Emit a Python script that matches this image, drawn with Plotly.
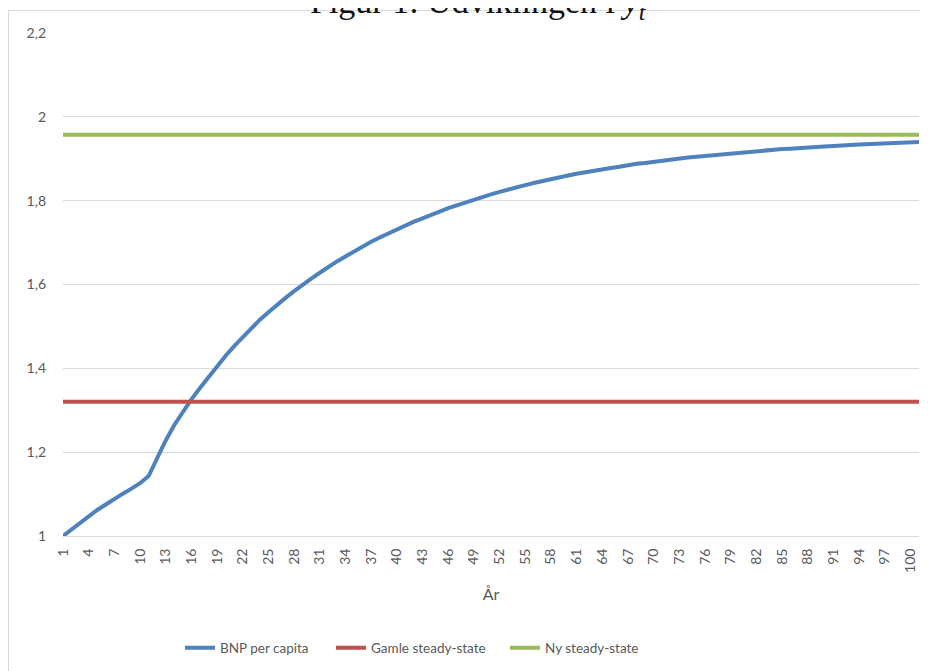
import plotly.graph_objects as go

# ---- data ----
years = list(range(1, 102))
tick_years = list(range(1, 101, 3))
tick_labels = [str(v) for v in tick_years]

bnp_per_capita = [
    1.000, 1.016, 1.032, 1.047, 1.062, 1.075, 1.089, 1.101, 1.113, 1.126,
    1.143, 1.187, 1.228, 1.265, 1.297, 1.326, 1.353, 1.379, 1.406, 1.430,
    1.453, 1.475, 1.497, 1.516, 1.534, 1.552, 1.568, 1.584, 1.600, 1.614,
    1.628, 1.642, 1.655, 1.667, 1.679, 1.691, 1.702, 1.712, 1.722, 1.732,
    1.741, 1.750, 1.758, 1.767, 1.774, 1.782, 1.789, 1.796, 1.803, 1.809,
    1.815, 1.821, 1.827, 1.832, 1.837, 1.842, 1.847, 1.851, 1.856, 1.860,
    1.864, 1.868, 1.871, 1.875, 1.878, 1.881, 1.885, 1.888, 1.890, 1.893,
    1.896, 1.898, 1.901, 1.903, 1.905, 1.907, 1.909, 1.911, 1.913, 1.915,
    1.917, 1.918, 1.920, 1.922, 1.923, 1.924, 1.926, 1.927, 1.928, 1.929,
    1.931, 1.932, 1.933, 1.934, 1.935, 1.936, 1.936, 1.937, 1.938, 1.939,
    1.940,
]
gamle_steady_state_value = 1.32
ny_steady_state_value = 1.957
gamle_steady_state = [gamle_steady_state_value] * len(years)
ny_steady_state = [ny_steady_state_value] * len(years)

series_names = ["BNP per capita", "Gamle steady-state", "Ny steady-state"]
series_colors = ["#4F81BD", "#C0504D", "#9BBB59"]

title_text = "Figur 1: Udviklingen i <i>y</i><sub><i>t</i></sub>"
x_title = "År"

# ---- figure ----
# the page body has an 8px margin, so the figure starts at (8, 8) in the window
OFF = 8
W, H = 928 - OFF, 671 - OFF
ML, MR, MT, MB = 63 - OFF, 9, 33 - OFF, 135
PW, PH = W - ML - MR, H - MT - MB

def px_x(p):  # window pixel -> paper x
    return (p - OFF - ML) / PW

def px_y(p):  # window pixel -> paper y
    return 1 - (p - OFF - MT) / PH

fig = go.Figure()
all_series = [bnp_per_capita, gamle_steady_state, ny_steady_state]
legend_ids = ["legend", "legend2", "legend3"]
for vals, name, col, lg in zip(all_series, series_names, series_colors, legend_ids):
    fig.add_trace(go.Scatter(
        x=years, y=vals, mode="lines", name=name,
        line=dict(color=col, width=4),
        legend=lg, hoverinfo="skip",
    ))

font_family = "Lato, 'Open Sans', sans-serif"
gray = "#595959"

legend_common = dict(
    orientation="h", yanchor="middle", y=px_y(648), xanchor="left",
    font=dict(family=font_family, size=13.5, color=gray),
    bgcolor="rgba(0,0,0,0)", itemwidth=30,
)
fig.update_layout(
    width=W, height=H,
    margin=dict(l=ML, r=MR, t=MT, b=MB, autoexpand=False),
    paper_bgcolor="white", plot_bgcolor="white",
    separators=", ",
    showlegend=True,
    legend=dict(legend_common, x=px_x(180)),
    legend2=dict(legend_common, x=px_x(331)),
    legend3=dict(legend_common, x=px_x(505)),
    font=dict(family=font_family, color=gray),
    xaxis=dict(
        range=[1, 101], tickmode="array", tickvals=tick_years, ticktext=tick_labels,
        tickangle=-90, showgrid=False, zeroline=False, automargin=False,
        showline=True, linecolor="#D9D9D9", linewidth=1,
        ticks="", ticklabelstandoff=6,
        tickfont=dict(family=font_family, size=14, color=gray),
        title=dict(text=x_title, standoff=16,
                   font=dict(family=font_family, size=16, color=gray)),
    ),
    yaxis=dict(
        range=[1, 2.2], tick0=1, dtick=0.2, showgrid=True, gridcolor="#D9D9D9",
        gridwidth=1, zeroline=False, showline=False, ticks="", automargin=False,
        ticklabelstandoff=16,
        tickfont=dict(family=font_family, size=14, color=gray),
    ),
    shapes=[dict(
        type="rect", xref="paper", yref="paper",
        x0=px_x(8.5), x1=px_x(940), y0=px_y(700), y1=px_y(10.5),
        line=dict(color="#D9D9D9", width=1), fillcolor="rgba(0,0,0,0)", layer="below",
    )],
    annotations=[dict(
        text=title_text, xref="paper", yref="paper",
        x=px_x(478), y=px_y(27), xanchor="center", yanchor="bottom",
        showarrow=False,
        font=dict(family="'Liberation Serif', 'DejaVu Serif', serif", size=34, color="#111111"),
    )],
)

fig.write_html("out.html")
